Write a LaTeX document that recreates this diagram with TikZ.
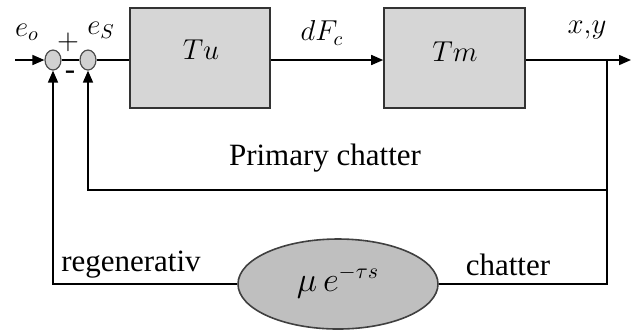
\documentclass[tikz,border=0pt]{standalone}
\usepackage{fontspec}
\setmainfont{Liberation Serif}
\usepackage{tikz}
\usetikzlibrary{arrows.meta,shapes.geometric}

\begin{document}
\begin{tikzpicture}[x=0.5pt,y=-0.5pt,line width=0.8pt,
  >={Triangle[length=6pt,width=5pt]},
  blockbox/.style={draw=black!80,fill=black!16,minimum height=50pt,inner sep=0pt},
  sumnode/.style={ellipse,draw=black!70,fill=black!18,line width=0.6pt,minimum width=8pt,minimum height=10pt,inner sep=0pt},
  lbl/.style={font=\fontsize{15.5}{18}\selectfont},
  mlbl/.style={font=\fontsize{14}{16}\selectfont}]
\useasboundingbox (0,0) rectangle (632,329);
% summing junctions
\node[sumnode] (sumA) at (53,60) {};
\node[sumnode] (sumB) at (88,60) {};
% blocks
\node[blockbox,minimum width=70pt] (tu) at (200,58) {};
\node[mlbl] (tulbl) at (201,50) {$Tu$};
\node[blockbox,minimum width=70.5pt] (tm) at (454.5,58) {};
\node[mlbl] (tmlbl) at (455,52) {$Tm$};
\node[ellipse,draw=black!75,fill=black!25,minimum width=100pt,minimum height=45pt,inner sep=0pt] (delay) at (338,284) {};
\node[font=\fontsize{16}{18}\selectfont] (delaylbl) at (338,282) {$\mu\, e^{-\tau s}$};
% free ends
\coordinate (in) at (15,60);
\coordinate (out) at (631,60);
\coordinate (tap) at (607,60);
\coordinate (prim) at (88,190);
% forward path
\draw[->] (in) -- (sumA);
\draw (sumA) -- (sumB);
\draw (sumB) -- (tu.west |- sumB);
\draw[->] (tu.east |- sumB) -- (tm.west |- sumB);
\draw[->] (tm.east |- sumB) -- (out);
% feedback loops
\draw[->] (tap) |- (prim) -- (sumB.south);
\draw (tap) |- (delay.east);
\draw[->] (delay.west) -| (sumA.south);
% labels
\node[mlbl] (eo) at (27,32) {$e_o$};
\node[lbl] (plus) at (68,42) {$+$};
\node[mlbl] (es) at (101,30) {$e_S$};
\node[lbl] (minus) at (70,75) {-};
\node[mlbl] (dfc) at (322,33) {$dF_c$};
\node[mlbl] (xy) at (587,30) {$x{,}y$};
\node[lbl] (primlbl) at (325,158) {Primary chatter};
\node[lbl] (reglbl) at (131,265) {regenerativ};
\node[lbl] (chatlbl) at (508,265) {chatter};
\end{tikzpicture}
\end{document}
